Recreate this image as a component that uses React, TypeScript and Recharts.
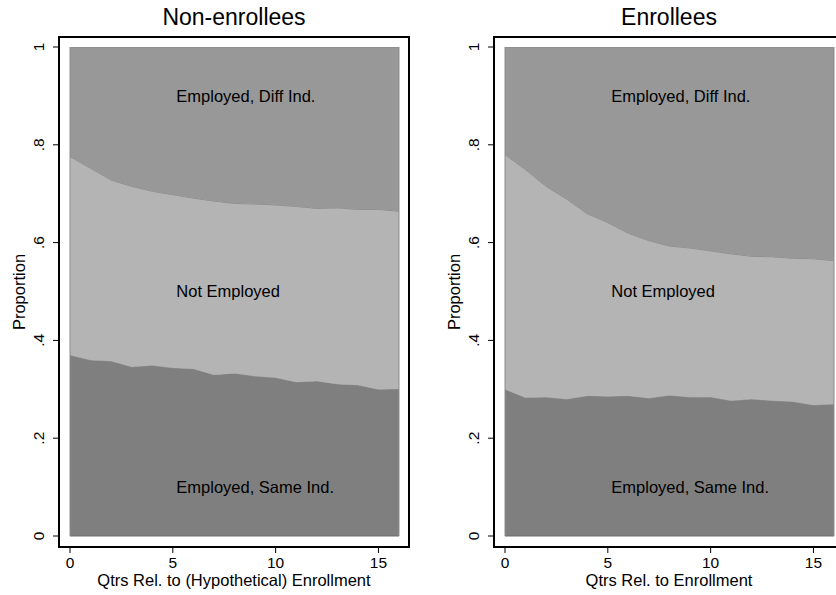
import React from "react";
import {
  AreaChart,
  Area,
  XAxis,
  YAxis,
  ReferenceLine,
  ReferenceDot,
} from "recharts";

// quarters relative to enrollment
const quarters = [0, 1, 2, 3, 4, 5, 6, 7, 8, 9, 10, 11, 12, 13, 14, 15, 16];

// Non-enrollees shares
const nonSameInd = [0.370, 0.360, 0.358, 0.346, 0.349, 0.344, 0.342, 0.330, 0.333, 0.327, 0.324, 0.315, 0.317, 0.311, 0.309, 0.300, 0.301];
const nonNotEmployed = [0.406, 0.392, 0.370, 0.369, 0.356, 0.354, 0.349, 0.355, 0.347, 0.352, 0.353, 0.359, 0.353, 0.360, 0.359, 0.368, 0.363];
const nonDiffInd = [0.224, 0.248, 0.272, 0.285, 0.295, 0.302, 0.309, 0.315, 0.320, 0.321, 0.323, 0.326, 0.330, 0.329, 0.332, 0.332, 0.336];

// Enrollees shares
const enrSameInd = [0.300, 0.283, 0.284, 0.280, 0.287, 0.286, 0.287, 0.282, 0.288, 0.284, 0.284, 0.277, 0.280, 0.277, 0.275, 0.268, 0.270];
const enrNotEmployed = [0.480, 0.466, 0.431, 0.409, 0.372, 0.355, 0.332, 0.322, 0.305, 0.305, 0.299, 0.300, 0.292, 0.294, 0.293, 0.299, 0.293];
const enrDiffInd = [0.220, 0.251, 0.285, 0.311, 0.341, 0.359, 0.381, 0.396, 0.407, 0.411, 0.417, 0.423, 0.428, 0.429, 0.432, 0.433, 0.437];

const xTicks = [0, 5, 10, 15];
const yTicks = [0, 0.2, 0.4, 0.6, 0.8, 1];

const FONT = "'Liberation Sans', Arial, sans-serif";

const fmtY = (v: number) => (v === 0 ? "0" : v === 1 ? "1" : String(v).replace(/^0/, ""));

// rotated y tick labels, like Stata
function YTick(props: any) {
  const { x, y, payload } = props;
  return (
    <g transform={`translate(${x},${y}) rotate(-90)`}>
      <text x={0} y={0} textAnchor="middle" fontSize={15.5} fill="#000">
        {fmtY(payload.value)}
      </text>
    </g>
  );
}

function XTick(props: any) {
  const { x, y, payload } = props;
  return (
    <text x={x} y={y + 12} textAnchor="middle" fontSize={15.5} fill="#000">
      {payload.value}
    </text>
  );
}

type PanelProps = {
  title: string;
  xLabel: string;
  same: number[];
  notEmp: number[];
  diff: number[];
  left: number;
};

function Panel({ title, xLabel, same, notEmp, diff, left }: PanelProps) {
  const data = quarters.map((q, i) => ({
    q,
    same: same[i],
    notEmp: notEmp[i],
    diff: diff[i],
  }));

  const inLabel = (v: string) => ({
    value: v,
    position: "right" as const,
    offset: 2.5,
    fontSize: 16.5,
    fill: "#000",
  });

  return (
    <div style={{ position: "absolute", left, top: 0, width: 420, height: 595 }}>
      <div
        style={{
          position: "absolute",
          left: 59,
          top: 6,
          width: 350,
          textAlign: "center",
          fontSize: 23,
          lineHeight: "23px",
          color: "#000",
        }}
      >
        {title}
      </div>
      <AreaChart
        width={420}
        height={595}
        data={data}
        margin={{ top: 37, right: 11, bottom: 0, left: 0 }}
      >
        <XAxis
          dataKey="q"
          type="number"
          domain={[0, 16]}
          ticks={xTicks}
          padding={{ left: 11, right: 10 }}
          height={48}
          tickSize={6}
          tickMargin={3}
          tick={<XTick />}
          axisLine={{ stroke: "#000", strokeWidth: 1.5 }}
          tickLine={{ stroke: "#000" }}
          label={{ value: xLabel, position: "insideBottom", offset: 9, fontSize: 16.5, fill: "#000" }}
        />
        <YAxis
          type="number"
          domain={[0, 1]}
          ticks={yTicks}
          allowDataOverflow
          padding={{ top: 10, bottom: 11 }}
          width={59}
          tickSize={6}
          tickMargin={9.5}
          tick={<YTick />}
          axisLine={{ stroke: "#000", strokeWidth: 1.5 }}
          tickLine={{ stroke: "#000" }}
          label={{
            value: "Proportion",
            angle: -90,
            position: "insideLeft",
            offset: 19,
            fontSize: 16.5,
            fill: "#000",
            style: { textAnchor: "middle" },
          }}
        />

        <Area
          type="linear"
          dataKey="same"
          stackId="1"
          fill="#7f7f7f"
          fillOpacity={1}
          stroke="#9a9a9a"
          strokeWidth={1}
          dot={false}
          activeDot={false}
          isAnimationActive={false}
        />
        <Area
          type="linear"
          dataKey="notEmp"
          stackId="1"
          fill="#b4b4b4"
          fillOpacity={1}
          stroke="#888888"
          strokeWidth={1}
          dot={false}
          activeDot={false}
          isAnimationActive={false}
        />
        <Area
          type="linear"
          dataKey="diff"
          stackId="1"
          fill="#989898"
          fillOpacity={1}
          stroke="#888888"
          strokeWidth={1}
          dot={false}
          activeDot={false}
          isAnimationActive={false}
        />

        {/* outline edges of the stacked areas */}
        <ReferenceLine segment={[{ x: 0, y: 0 }, { x: 16, y: 0 }]} stroke="#6e6e6e" strokeWidth={1} />
        <ReferenceLine segment={[{ x: 0, y: 0 }, { x: 0, y: 1 }]} stroke="#8c8c8c" strokeWidth={1} />
        <ReferenceLine segment={[{ x: 16, y: 0 }, { x: 16, y: 1 }]} stroke="#8c8c8c" strokeWidth={1} />

        <ReferenceDot x={5} y={0.9} r={1} fill="none" stroke="none" label={inLabel("Employed, Diff Ind.")} />
        <ReferenceDot x={5} y={0.5} r={1} fill="none" stroke="none" label={inLabel("Not Employed")} />
        <ReferenceDot x={5} y={0.1} r={1} fill="none" stroke="none" label={inLabel("Employed, Same Ind.")} />
      </AreaChart>
      {/* plot-region frame */}
      <svg
        width={420}
        height={595}
        style={{ position: "absolute", left: 0, top: 0, pointerEvents: "none" }}
      >
        <rect x={59} y={37} width={350} height={510} fill="none" stroke="#000" strokeWidth={2} />
      </svg>
    </div>
  );
}

export default function App() {
  return (
    <div
      style={{
        position: "absolute",
        left: 0,
        top: 0,
        width: 836,
        height: 595,
        overflow: "hidden",
        background: "#fff",
        fontFamily: FONT,
      }}
    >
      <Panel
        title="Non-enrollees"
        xLabel="Qtrs Rel. to (Hypothetical) Enrollment"
        same={nonSameInd}
        notEmp={nonNotEmployed}
        diff={nonDiffInd}
        left={0}
      />
      <Panel
        title="Enrollees"
        xLabel="Qtrs Rel. to Enrollment"
        same={enrSameInd}
        notEmp={enrNotEmployed}
        diff={enrDiffInd}
        left={435}
      />
    </div>
  );
}
